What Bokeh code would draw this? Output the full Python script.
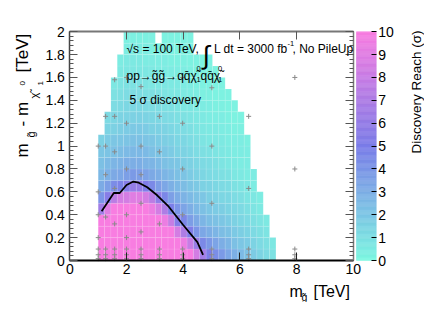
import math
from bokeh.plotting import figure
from bokeh.models import (ColumnDataSource, LinearColorMapper, FixedTicker, LinearAxis, Label, Range1d)
from bokeh.embed import file_html
from bokeh.resources import INLINE

# ---------------- data ----------------
# heat-map cells: columns of width cell_w starting at cell_x0, rows of height cell_h from y=0
cell_x0 = 1.0
cell_w = 0.224
cell_h = 0.1
# discovery reach (sigma) per column, from the bottom row upward (column length = filled rows)
reach_columns = [
    [10, 10, 10, 10, 6.5, 4.0, 3.1, 2.6, 2.3, 2.0, 1.6],
    [10, 10, 10, 10, 9, 5.5, 3.6, 2.9, 2.5, 2.1, 1.8, 1.5, 1.2],
    [10, 10, 10, 10, 10, 7.5, 4.4, 3.2, 2.7, 2.3, 2.0, 1.6, 1.4, 1.1, 0.9, 0.7],
    [10, 10, 10, 10, 10, 8.5, 4.7, 3.3, 2.8, 2.4, 2.0, 1.7, 1.5, 1.2, 1.0, 0.8, 0.6, 0.5],
    [10, 10, 10, 10, 10, 8.5, 5.5, 3.6, 3.0, 2.5, 2.1, 1.8, 1.5, 1.3, 1.1, 0.9, 0.7, 0.6, 0.4, 0.3],
    [10, 10, 10, 10, 10, 9, 6.0, 3.8, 3.0, 2.6, 2.2, 1.9, 1.6, 1.3, 1.1, 0.9, 0.7, 0.6, 0.4, 0.3],
    [10, 10, 10, 10, 10, 9, 6.0, 3.7, 3.0, 2.6, 2.2, 1.9, 1.6, 1.3, 1.1, 0.9, 0.7, 0.6, 0.4, 0.3],
    [10, 10, 10, 10, 10, 8.5, 5.2, 3.5, 2.8, 2.5, 2.1, 1.8, 1.5, 1.2, 1.0, 0.8, 0.7, 0.5, 0.4, 0.3],
    [10, 10, 10, 10, 9.5, 7.5, 4.5, 3.2, 2.7, 2.3, 2.0, 1.6, 1.4, 1.1, 1.0, 0.7, 0.6, 0.5, 0.3, 0.3],
    [10, 10, 10, 10, 8.5, 5.8, 3.7, 3.0, 2.5, 2.1, 1.8, 1.6, 1.3, 1.1, 0.9, 0.7, 0.5, 0.4, 0.3],
    [10, 10, 10, 9.5, 7.0, 4.6, 3.3, 2.7, 2.3, 2.0, 1.7, 1.5, 1.2, 1.0, 0.8, 0.7, 0.5, 0.4, 0.3, 0.2],
    [10, 10, 10, 8.0, 4.9, 3.6, 2.9, 2.5, 2.1, 1.8, 1.6, 1.3, 1.1, 0.9, 0.7, 0.6, 0.5, 0.3, 0.2, 0.2],
    [10, 10, 8.5, 5.4, 4.0, 3.1, 2.6, 2.3, 2.0, 1.6, 1.4, 1.2, 1.0, 0.8, 0.7, 0.6, 0.4, 0.3, 0.2, 0.2],
    [10, 9.5, 7.0, 4.6, 3.4, 2.8, 2.4, 2.1, 1.7, 1.5, 1.3, 1.1, 0.9, 0.7, 0.6, 0.5, 0.4, 0.3, 0.2, 0.2],
    [10, 8.0, 5.2, 3.7, 3.0, 2.5, 2.1, 1.8, 1.6, 1.3, 1.1, 1.0, 0.8, 0.7, 0.5, 0.4, 0.3, 0.2, 0.2, 0.2],
    [8.5, 6.2, 4.0, 3.2, 2.6, 2.2, 1.9, 1.6, 1.4, 1.1, 1.0, 0.8, 0.7, 0.6, 0.4, 0.3, 0.2, 0.2],
    [6.5, 4.5, 3.3, 2.7, 2.3, 2.0, 1.6, 1.4, 1.2, 1.0, 0.8, 0.7, 0.6, 0.5, 0.3, 0.2, 0.2, 0.2],
    [5.1, 3.9, 3.0, 2.4, 2.0, 1.7, 1.5, 1.2, 1.1, 0.9, 0.7, 0.6, 0.5, 0.4, 0.3, 0.2, 0.2, 0.2],
    [4.3, 3.4, 2.7, 2.2, 1.8, 1.6, 1.3, 1.1, 1.0, 0.8, 0.7, 0.6, 0.4, 0.3, 0.2, 0.2, 0.2],
    [3.8, 3.0, 2.4, 2.0, 1.7, 1.4, 1.2, 1.0, 0.8, 0.7, 0.6, 0.5, 0.4, 0.3, 0.2, 0.2],
    [3.3, 2.7, 2.2, 1.8, 1.5, 1.3, 1.1, 0.9, 0.7, 0.6, 0.5, 0.4, 0.3, 0.2, 0.2],
    [2.9, 2.3, 1.9, 1.6, 1.3, 1.1, 0.9, 0.7, 0.6, 0.5, 0.4, 0.3, 0.2, 0.2],
    [2.5, 2.0, 1.7, 1.4, 1.2, 1.0, 0.8, 0.6, 0.5, 0.5, 0.4, 0.3, 0.2],
    [2.2, 1.8, 1.5, 1.2, 1.0, 0.8, 0.7, 0.5, 0.5, 0.4, 0.3],
    [1.8, 1.5, 1.2, 1.0, 0.8, 0.7, 0.5, 0.5],
    [1.5, 1.2, 1.0, 0.8, 0.6, 0.5],
    [1.2, 1.0, 0.8, 0.6],
    [0.9, 0.7],
]

# 5 sigma contour
contour_x = [1.12, 1.55, 1.76, 2.0, 2.24, 2.43, 2.73, 3.08, 3.49, 4.0, 4.5, 4.7]
contour_y = [0.43, 0.59, 0.59, 0.66, 0.69, 0.68, 0.64, 0.57, 0.47, 0.31, 0.16, 0.05]

# generated signal points (grey crosses)
sample_x = [1.0, 1.0, 1.0, 1.0,
            1.26, 1.26, 1.26, 1.26,
            1.58, 1.58, 1.58, 1.58, 1.58,
            2.0, 2.0, 2.0, 2.0, 2.0,
            2.51, 2.51, 2.51, 2.51, 2.51,
            3.16, 3.16, 3.16,
            3.98, 3.98, 3.98, 3.98,
            5.01, 5.01, 5.01,
            6.31, 6.31,
            7.94, 7.94]
sample_y = [1.0, 0.6, 0.4, 0.2,
            1.26, 1.0, 0.75, 0.38,
            1.58, 1.26, 0.95, 0.63, 0.32,
            1.6, 1.2, 0.8, 0.4, 0.2,
            1.52, 1.0, 0.75, 0.5, 0.25,
            1.26, 0.95, 0.32,
            1.6, 1.2, 0.8, 0.4,
            1.51, 1.0, 0.5,
            1.26, 0.63,
            1.6, 0.8]
low_masses = [1.0, 1.26, 1.58, 2.0, 2.51, 3.16, 3.98, 5.01, 6.31, 7.94]
low_splittings = [0.1, 0.05, 0.016]

x_ticks = [0, 2, 4, 6, 8, 10]
x_tick_labels = ["0", "2", "4", "6", "8", "10"]
y_ticks = [0, 0.2, 0.4, 0.6, 0.8, 1, 1.2, 1.4, 1.6, 1.8, 2]
y_tick_labels = ["0", "0.2", "0.4", "0.6", "0.8", "1", "1.2", "1.4", "1.6", "1.8", "2"]
cbar_ticks = [0, 1, 2, 3, 4, 5, 6, 7, 8, 9, 10]
cbar_tick_labels = [str(t) for t in cbar_ticks]

# ---------------- styling ----------------
FONT = "Liberation Sans"
anchors = [(0.0, (125, 247, 225)), (0.5, (123, 125, 232)), (1.0, (248, 125, 225))]


def make_palette(n=256):
    out = []
    for i in range(n):
        t = i / (n - 1)
        for (t0, c0), (t1, c1) in zip(anchors[:-1], anchors[1:]):
            if t0 <= t <= t1:
                f = (t - t0) / (t1 - t0)
                c = tuple(int(round(a + (b - a) * f)) for a, b in zip(c0, c1))
                out.append("#%02x%02x%02x" % c)
                break
    return out


mapper = LinearColorMapper(palette=make_palette(), low=0, high=10)

W, H = 424, 302
# layout: page pixel of the frame corners (x=0 -> 69.4px, x=10 -> 352.7px; y=0 -> 260px, y=2 -> 31.2px)
PX0, PXS = 69.4, 28.33
PY0, PYS = 260.0, 114.4


def X(px):
    return (px - PX0) / PXS


def Y(py):
    return (PY0 - py) / PYS


p = figure(width=W, height=H, x_range=Range1d(X(0), X(W)), y_range=Range1d(Y(H), Y(0)),
           output_backend="svg", toolbar_location=None, x_axis_location=None,
           y_axis_location=None, min_border=0)
p.min_border_left = p.min_border_right = p.min_border_top = p.min_border_bottom = 0
p.outline_line_color = None
p.grid.visible = False
p.background_fill_color = "white"
p.extra_y_ranges = {"cb": Range1d(Y(H) * 5, Y(0) * 5)}

# heat map
L, R, B, T, Z = [], [], [], [], []
for i, col in enumerate(reach_columns):
    for j, z in enumerate(col):
        L.append(cell_x0 + i * cell_w)
        R.append(cell_x0 + (i + 1) * cell_w)
        B.append(j * cell_h)
        T.append((j + 1) * cell_h)
        Z.append(z)
cells = ColumnDataSource(dict(left=L, right=R, bottom=B, top=T, z=Z))
p.quad(left="left", right="right", bottom="bottom", top="top", source=cells,
       fill_color={"field": "z", "transform": mapper}, line_color="white", line_alpha=0.18,
       line_width=0.5)

mx = sample_x + [m for m in low_masses for _ in low_splittings]
my = sample_y + [s for _ in low_masses for s in low_splittings]
p.scatter(mx, my, marker="cross", size=5, line_color="#8a8a8a", line_width=1)
p.line(contour_x, contour_y, line_color="black", line_width=1.8)

# colour scale bar
cb_step = 0.05
cb_levels = [k * cb_step for k in range(200)]
cbar = ColumnDataSource(dict(b=cb_levels, t=[v + cb_step for v in cb_levels],
                             m=[v + cb_step / 2 for v in cb_levels]))
p.quad(left=X(356), right=X(375.7), bottom="b", top="t", source=cbar, y_range_name="cb",
       fill_color={"field": "m", "transform": mapper}, line_color={"field": "m", "transform": mapper},
       line_width=0.5)

y_minor = [round(0.04 * k, 2) for k in range(51)]
GREY = "#555555"

# frame axes drawn at fixed data locations
bottom = LinearAxis(fixed_location=0, bounds=(0, 10), ticker=FixedTicker(ticks=x_ticks),
                    major_label_overrides={t: s for t, s in zip(x_ticks, x_tick_labels)},
                    major_tick_in=8, major_tick_out=0, minor_tick_line_color=None,
                    axis_line_width=2, axis_line_color="black", major_tick_line_color="#222222",
                    major_label_standoff=3, major_label_text_font=FONT,
                    major_label_text_font_size="14px", major_label_text_color="black")
p.add_layout(bottom, "below")

left = LinearAxis(fixed_location=0, bounds=(0, 2), ticker=FixedTicker(ticks=y_ticks, minor_ticks=y_minor),
                  major_label_overrides={t: s for t, s in zip(y_ticks, y_tick_labels)},
                  major_tick_in=8, major_tick_out=0, minor_tick_in=4, minor_tick_out=0,
                  axis_line_color="#444444", axis_line_width=1.5, major_tick_line_color=GREY,
                  minor_tick_line_color=GREY, major_label_standoff=5, major_label_text_font=FONT,
                  major_label_text_font_size="14px", major_label_text_color="black")
p.add_layout(left, "left")

top = LinearAxis(fixed_location=2, bounds=(0, 10), ticker=FixedTicker(ticks=x_ticks),
                 major_label_overrides={t: "" for t in x_ticks},
                 major_tick_in=8, major_tick_out=0, minor_tick_line_color=None,
                 axis_line_color="#777777", axis_line_width=2, major_tick_line_color=GREY)
p.add_layout(top, "above")

right = LinearAxis(fixed_location=10, bounds=(0, 2), ticker=FixedTicker(ticks=y_ticks, minor_ticks=y_minor),
                   major_label_overrides={t: "" for t in y_ticks},
                   major_tick_in=8, major_tick_out=0, minor_tick_in=4, minor_tick_out=0,
                   axis_line_color="#777777", axis_line_width=1.5, major_tick_line_color=GREY,
                   minor_tick_line_color=GREY)
p.add_layout(right, "right")

cb_axis = LinearAxis(y_range_name="cb", fixed_location=X(375.7), bounds=(0, 10),
                     ticker=FixedTicker(ticks=cbar_ticks),
                     major_label_overrides={t: s for t, s in zip(cbar_ticks, cbar_tick_labels)},
                     major_tick_in=5, major_tick_out=0, minor_tick_line_color=None,
                     axis_line_color=None, major_tick_line_color="black", major_label_standoff=2,
                     major_label_text_font=FONT, major_label_text_font_size="14px",
                     major_label_text_color="black")
p.add_layout(cb_axis, "right")


def txt(s, px, py, size, angle=0.0, align="left", baseline="alphabetic"):
    p.add_layout(Label(x=X(px), y=Y(py), text=s, text_font=FONT, text_font_size="%gpx" % size,
                       text_color="black", angle=angle, text_align=align,
                       text_baseline=baseline))


# annotation block
txt("\u221as = 100 TeV,", 126, 48.5, 12)
txt("\u222b", 202, 54, 26)
txt("L dt = 3000 fb", 213.5, 48.5, 12)
txt("-1", 287, 43, 7.5)
txt(", No PileUp", 292, 48.5, 12)
txt("pp\u2192g\u0303g\u0303\u2192qq\u0304\u03c7\u0303", 126, 75, 12)
txt("1", 196, 79, 7.5)
txt("0", 196, 68, 7.5)
txt("qq\u0304\u03c7\u0303", 200, 75, 12)
txt("1", 217.5, 79, 7.5)
txt("0", 217.5, 68, 7.5)
txt("5 \u03c3 discovery", 129, 99, 12)

# x axis title
txt("m", 289, 291, 16)
txt("g\u0303", 301, 296, 10.5)
txt("[TeV]", 313, 291, 16)

# y axis title (rotated)
up = math.pi / 2
txt("m", 21.7, 157, 17, angle=up)
txt("g\u0303", 30, 137, 11, angle=up)
txt("- m", 21.7, 126, 17, angle=up)
txt("\u03c7\u0303", 33, 98, 11, angle=up)
txt("1", 39.5, 85, 8, angle=up)
txt("0", 22, 85, 8, angle=up)
txt("[TeV]", 21.7, 72, 17, angle=up)

# colour bar title
txt("Discovery Reach (\u03c3)", 415.5, 153, 13.5, angle=up)

open("out.html", "w").write(file_html(p, INLINE))
